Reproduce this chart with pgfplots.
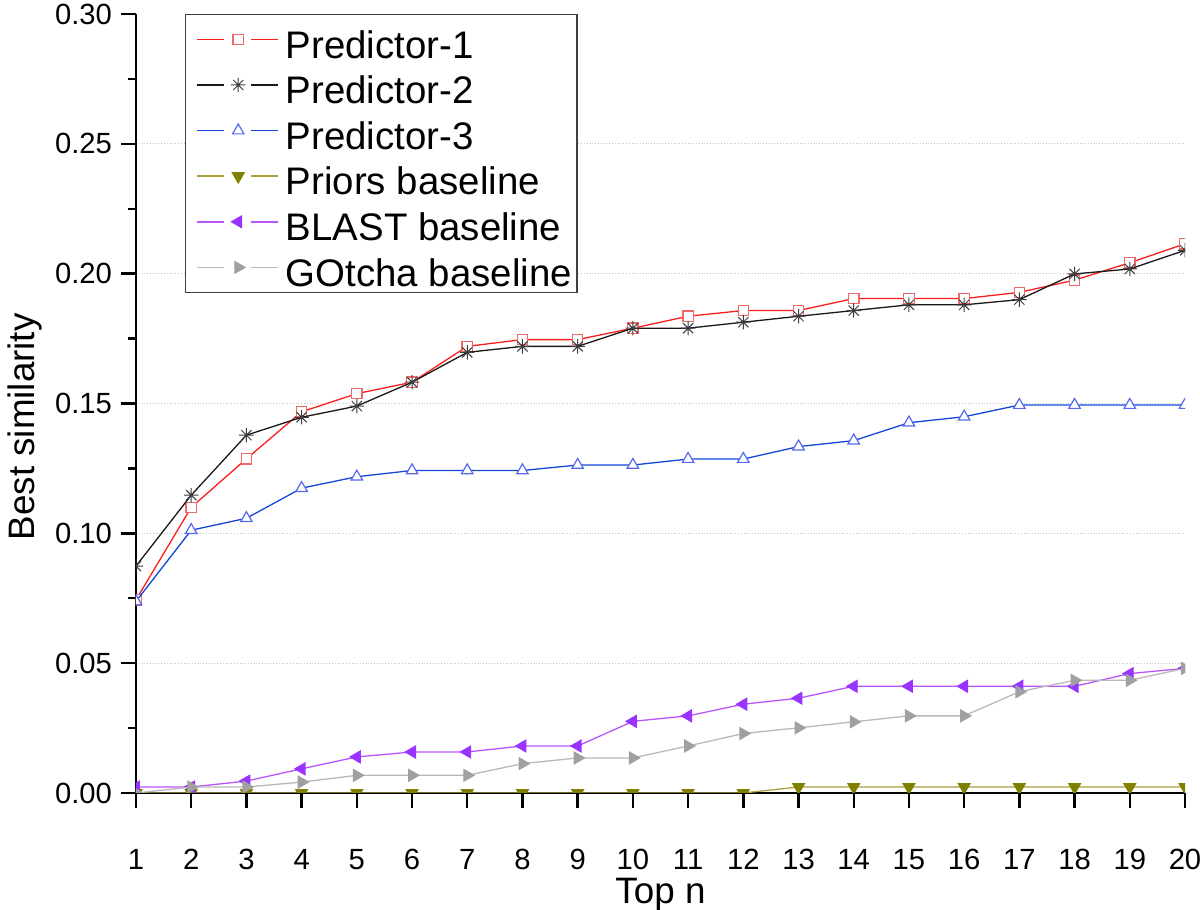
\documentclass[border=0pt]{standalone}
\usepackage{fontspec}
\setmainfont{Liberation Sans}
\usepackage{pgfplots}
\pgfplotsset{compat=1.18}
\usetikzlibrary{calc}

\definecolor{pAline}{RGB}{250,30,30}
\definecolor{pAmark}{RGB}{240,105,105}
\definecolor{pBline}{RGB}{25,25,25}
\definecolor{pBmark}{RGB}{60,60,60}
\definecolor{pCline}{RGB}{20,70,215}
\definecolor{pCmark}{RGB}{85,105,240}
\definecolor{prline}{RGB}{170,160,60}
\definecolor{prmark}{RGB}{128,128,0}
\definecolor{blline}{RGB}{185,85,250}
\definecolor{blmark}{RGB}{153,51,255}
\definecolor{goline}{RGB}{185,185,185}
\definecolor{gomark}{RGB}{160,160,160}

\pgfdeclareplotmark{ast8}{%
  \pgfpathmoveto{\pgfpoint{-\pgfplotmarksize}{0pt}}%
  \pgfpathlineto{\pgfpoint{\pgfplotmarksize}{0pt}}%
  \pgfpathmoveto{\pgfpoint{0pt}{-\pgfplotmarksize}}%
  \pgfpathlineto{\pgfpoint{0pt}{\pgfplotmarksize}}%
  \pgfpathmoveto{\pgfpoint{-0.7071\pgfplotmarksize}{-0.7071\pgfplotmarksize}}%
  \pgfpathlineto{\pgfpoint{0.7071\pgfplotmarksize}{0.7071\pgfplotmarksize}}%
  \pgfpathmoveto{\pgfpoint{-0.7071\pgfplotmarksize}{0.7071\pgfplotmarksize}}%
  \pgfpathlineto{\pgfpoint{0.7071\pgfplotmarksize}{-0.7071\pgfplotmarksize}}%
  \pgfusepathqstroke
  \pgfpathcircle{\pgfpointorigin}{0.5pt}\pgfusepathqfill}

\begin{document}
\begin{tikzpicture}
\begin{axis}[
  scale only axis,
  width=524.5pt, height=389.5pt,
  xmin=1, xmax=20, ymin=0, ymax=0.30,
  axis x line*=bottom, axis y line*=left,
  axis line style={line width=1.4pt, black, -},
  xtick={1,2,...,20},
  ytick={0,0.05,0.10,0.15,0.20,0.25},
  extra y ticks={0.30},
  extra y tick style={grid=none},
  minor ytick={0.025,0.075,0.125,0.175,0.225,0.275},
  ymajorgrids,
  major grid style={densely dotted, black!22, line width=0.5pt},
  tick align=outside,
  major tick length=7.5pt, minor tick length=4pt,
  tick style={line width=1.2pt, black},
  scaled y ticks=false,
  y tick label style={/pgf/number format/fixed, /pgf/number format/fixed zerofill, /pgf/number format/precision=2},
  /pgf/number format/assume math mode=true,
  ticklabel style={font=\fontsize{14.6}{17}\selectfont},
  x tick label style={anchor=base, inner sep=0pt, yshift=-30.5pt},
  y tick label style={xshift=-1pt},
  xlabel={Top n}, ylabel={Best similarity},
  every axis x label/.style={at={(axis description cs:0.5,0)}, anchor=base, inner sep=0pt, yshift=-55.5pt,
    font=\fontsize{18.4}{22}\selectfont},
  every axis y label/.style={at={(axis description cs:-0.0963,0.47)}, rotate=90, anchor=base,
    font=\fontsize{18.4}{22}\selectfont},
  clip marker paths=true,
  legend cell align=left,
  legend style={at={(0.0467,1)}, anchor=north west, draw=black!75, line width=0.6pt,
    fill=white, inner xsep=1pt, inner ysep=1pt,
    font=\fontsize{19.2}{22}\selectfont,
    nodes={inner xsep=1.5pt, inner ysep=2pt, text height=18.8pt, text depth=0pt}},
  legend image code/.code={
    \path (-3pt,0pt) (44pt,0pt);
    \draw[#1,mark=none,line width=0.8pt] (1.5pt,0pt) -- (15pt,0pt);
    \draw[#1,mark=none,line width=0.8pt] (28.5pt,0pt) -- (42pt,0pt);
    \draw[#1] plot coordinates {(22pt,0pt)};
  },
]
\addplot[color=pAline, line width=0.65pt, mark=square*, mark size=2.6pt,
  mark options={draw=pAmark, fill=white, solid, line width=0.6pt}] coordinates {
(1,0.0744)(2,0.110)(3,0.1287)(4,0.1468)(5,0.1538)(6,0.1582)(7,0.172)(8,0.1746)(9,0.1746)(10,0.179)
(11,0.1836)(12,0.1858)(13,0.1858)(14,0.1904)(15,0.1904)(16,0.1904)(17,0.1928)(18,0.1975)(19,0.2042)(20,0.2115)};
\addlegendentry{Predictor-1}
\addplot[color=pBline, line width=0.65pt, mark=ast8, mark size=3.6pt,
  mark options={draw=pBmark, fill=pBmark, solid, line width=0.5pt}] coordinates {
(1,0.0874)(2,0.1147)(3,0.1378)(4,0.1447)(5,0.149)(6,0.1582)(7,0.1697)(8,0.172)(9,0.172)(10,0.179)
(11,0.179)(12,0.1813)(13,0.1836)(14,0.1858)(15,0.188)(16,0.188)(17,0.190)(18,0.1999)(19,0.2018)(20,0.209)};
\addlegendentry{Predictor-2}
\addplot[color=pCline, line width=0.65pt, mark=triangle*, mark size=3.3pt,
  mark options={draw=pCmark, fill=white, solid, line width=0.6pt}] coordinates {
(1,0.0738)(2,0.1012)(3,0.1058)(4,0.1174)(5,0.1218)(6,0.1242)(7,0.1242)(8,0.1242)(9,0.1263)(10,0.1263)
(11,0.1286)(12,0.1286)(13,0.1334)(14,0.1357)(15,0.1426)(16,0.1449)(17,0.1494)(18,0.1494)(19,0.1494)(20,0.1494)};
\addlegendentry{Predictor-3}
\addplot[color=prline, line width=0.65pt, mark=triangle*, mark size=3.3pt,
  mark options={draw=prmark, fill=prmark, solid, rotate=180}] coordinates {
(1,0)(2,0)(3,0)(4,0)(5,0)(6,0)(7,0)(8,0)(9,0)(10,0)
(11,0)(12,0)(13,0.0023)(14,0.0023)(15,0.0023)(16,0.0023)(17,0.0023)(18,0.0023)(19,0.0023)(20,0.0023)};
\addlegendentry{Priors baseline}
\addplot[color=blline, line width=0.65pt, mark=triangle*, mark size=3.3pt,
  mark options={draw=blmark, fill=blmark, solid, rotate=90}] coordinates {
(1,0.0023)(2,0.0023)(3,0.0046)(4,0.0093)(5,0.0139)(6,0.0158)(7,0.0158)(8,0.0181)(9,0.0181)(10,0.0276)
(11,0.0297)(12,0.0342)(13,0.0365)(14,0.0411)(15,0.0411)(16,0.0411)(17,0.0411)(18,0.0411)(19,0.046)(20,0.048)};
\addlegendentry{BLAST baseline}
\addplot[color=goline, line width=0.65pt, mark=triangle*, mark size=3.3pt,
  mark options={draw=gomark, fill=gomark, solid, rotate=-90}] coordinates {
(1,0)(2,0.0023)(3,0.0023)(4,0.0042)(5,0.0068)(6,0.0068)(7,0.0068)(8,0.0113)(9,0.0135)(10,0.0135)
(11,0.0181)(12,0.0229)(13,0.0251)(14,0.0274)(15,0.0297)(16,0.0297)(17,0.039)(18,0.0434)(19,0.0434)(20,0.048)};
\addlegendentry{GOtcha baseline}
\coordinate (ll) at (rel axis cs:0,0);
\coordinate (ur) at (rel axis cs:1,1);
\end{axis}
\pgfresetboundingbox
\path ($(ll)+(-68pt,-58.5pt)$) rectangle ($(ur)+(7.5pt,7pt)$);
\end{tikzpicture}
\end{document}
